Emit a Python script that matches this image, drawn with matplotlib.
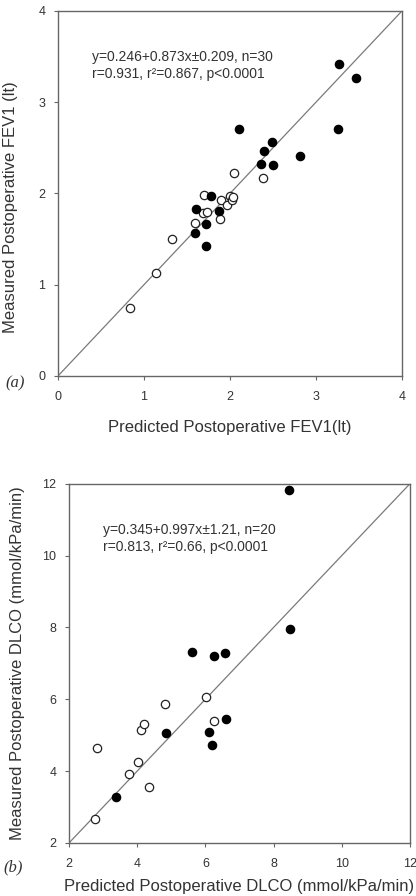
import matplotlib
matplotlib.use("Agg")
import matplotlib.pyplot as plt

plt.rcParams['font.family'] = ['Liberation Sans', 'DejaVu Sans']

# panel (a): FEV1
fev_open_x = [0.84, 1.14, 1.33, 1.59, 1.70, 1.69, 1.73, 1.895, 1.96, 2.00, 2.02, 2.03, 1.885, 2.05, 2.38]
fev_open_y = [0.75, 1.13, 1.50, 1.68, 1.98, 1.79, 1.80, 1.925, 1.87, 1.97, 1.925, 1.96, 1.72, 2.22, 2.17]
fev_fill_x = [2.10, 2.39, 2.49, 2.36, 2.50, 2.81, 3.27, 3.47, 3.26, 1.78, 1.605, 1.875, 1.72, 1.59, 1.72]
fev_fill_y = [2.71, 2.47, 2.56, 2.32, 2.31, 2.41, 3.42, 3.26, 2.71, 1.97, 1.83, 1.81, 1.67, 1.57, 1.42]

# panel (b): DLCO
dl_open_x = [2.75, 2.83, 3.75, 4.02, 4.36, 4.11, 4.19, 4.82, 6.03, 6.26]
dl_open_y = [2.68, 4.63, 3.93, 4.25, 3.56, 5.14, 5.31, 5.86, 6.05, 5.40]
dl_fill_x = [8.44, 8.49, 5.61, 6.26, 6.57, 6.60, 4.84, 6.10, 6.19, 3.37]
dl_fill_y = [11.81, 7.95, 7.32, 7.19, 7.29, 5.46, 5.05, 5.08, 4.74, 3.29]

fig = plt.figure(figsize=(4.16, 8.96), dpi=100)
ax1 = fig.add_axes([0.1394, 0.5804, 0.8269, 0.4074])
ax2 = fig.add_axes([0.1659, 0.0592, 0.8197, 0.4010])

spine_c = '#666666'
txt_c = '#333333'


def style(ax, lo, hi, ticks):
    ax.set_xlim(lo, hi)
    ax.set_ylim(lo, hi)
    ax.set_xticks(ticks)
    ax.set_yticks(ticks)
    ax.plot([lo, hi], [lo, hi], color='#7a7a7a', lw=0.9, zorder=1)
    for s in ax.spines.values():
        s.set_color(spine_c)
        s.set_linewidth(1.0)
    ax.tick_params(direction='out', length=3, width=0.8, color=spine_c,
                   labelsize=9, labelcolor=txt_c)
    ax.tick_params(axis='x', pad=8)
    ax.tick_params(axis='y', pad=6)


def scatter(ax, ox, oy, fx, fy):
    ax.scatter(ox, oy, s=36, facecolor='white', edgecolor='#222222', linewidth=0.9, zorder=3)
    ax.scatter(fx, fy, s=36, facecolor='black', edgecolor='black', linewidth=0.9, zorder=3)


style(ax1, 0, 4, [0, 1, 2, 3, 4])
scatter(ax1, fev_open_x, fev_open_y, fev_fill_x, fev_fill_y)
ax1.text(0.098, 0.873, "y=0.246+0.873x\u00b10.209, n=30", transform=ax1.transAxes,
         fontsize=10, color=txt_c, va='center')
ax1.text(0.098, 0.827, "r=0.931, r\u00b2=0.867, p<0.0001", transform=ax1.transAxes,
         fontsize=10, color=txt_c, va='center')
ax1.set_xlabel("Predicted Postoperative FEV1(lt)", fontsize=12, color=txt_c)
ax1.xaxis.set_label_coords(0.5, -0.14)
ax1.xaxis.label.set_va('center')
ax1.set_ylabel("Measured Postoperative FEV1 (lt)", fontsize=12, color=txt_c)
ax1.yaxis.set_label_coords(-0.116, 0.463)
fig.text(15 / 416, 1 - 383 / 896, "(a)", fontsize=12, family='Liberation Serif',
         style='italic', color=txt_c, ha='center', va='center')

style(ax2, 2, 12, [2, 4, 6, 8, 10, 12])
scatter(ax2, dl_open_x, dl_open_y, dl_fill_x, dl_fill_y)
ax2.text(0.1, 0.872, "y=0.345+0.997x\u00b11.21, n=20", transform=ax2.transAxes,
         fontsize=10, color=txt_c, va='center')
ax2.text(0.1, 0.824, "r=0.813, r\u00b2=0.66, p<0.0001", transform=ax2.transAxes,
         fontsize=10, color=txt_c, va='center')
ax2.set_xlabel("Predicted Postoperative DLCO (mmol/kPa/min)", fontsize=12, color=txt_c)
ax2.xaxis.set_label_coords(0.5, -0.122)
ax2.xaxis.label.set_va('center')
ax2.set_ylabel("Measured Postoperative DLCO (mmol/kPa/min)", fontsize=12, color=txt_c)
ax2.yaxis.set_label_coords(-0.129, 0.5)
fig.text(13 / 416, 1 - 867 / 896, "(b)", fontsize=12, family='Liberation Serif',
         style='italic', color=txt_c, ha='center', va='center')

fig.savefig("out.png", dpi=100)
